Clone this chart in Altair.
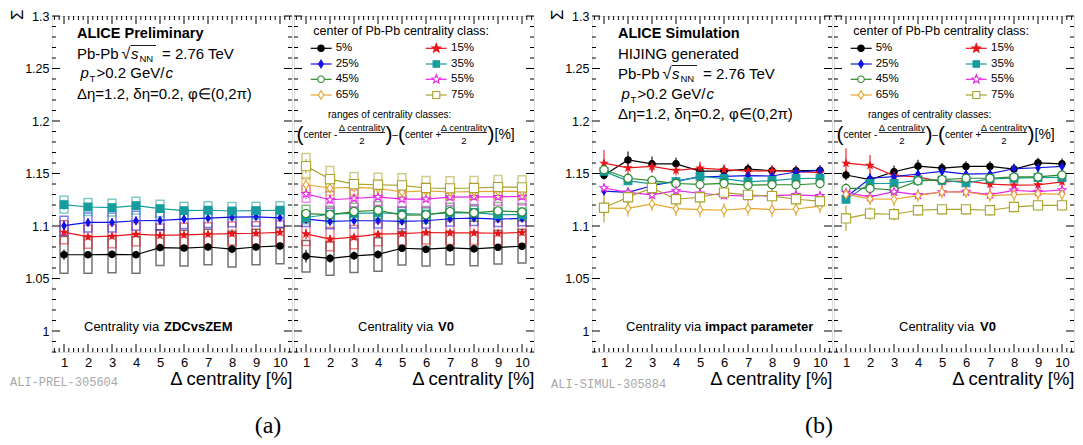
import altair as alt
import numpy as np
import pandas as pd

# ---------------- data ----------------
CLASSES = ["5%", "15%", "25%", "35%", "45%", "55%", "65%", "75%"]
X_VALUES = [1, 2, 3, 4, 5, 6, 7, 8, 9, 10]
Y_LABELS = [1.0, 1.05, 1.1, 1.15, 1.2, 1.25, 1.3]

# (a) left: ALICE Preliminary, centrality via ZDCvsZEM
ZDC_VALUE = {
    "5%":  [1.0726, 1.0726, 1.0730, 1.0726, 1.0794, 1.0790, 1.0800, 1.0780, 1.0800, 1.0810],
    "15%": [1.0941, 1.0897, 1.0903, 1.0922, 1.0910, 1.0916, 1.0922, 1.0928, 1.0931, 1.0940],
    "25%": [1.1003, 1.1034, 1.1034, 1.1050, 1.1053, 1.1066, 1.1075, 1.1084, 1.1087, 1.1078],
    "35%": [1.1203, 1.1181, 1.1175, 1.1194, 1.1165, 1.1147, 1.1150, 1.1143, 1.1147, 1.1150],
}
ZDC_STAT = {
    "5%":  [0.005, 0.003, 0.003, 0.003, 0.003, 0.003, 0.003, 0.003, 0.003, 0.003],
    "15%": [0.004, 0.003, 0.003, 0.003, 0.003, 0.003, 0.003, 0.003, 0.003, 0.003],
    "25%": [0.005, 0.004, 0.004, 0.004, 0.004, 0.004, 0.003, 0.003, 0.003, 0.003],
    "35%": [0.005, 0.003, 0.003, 0.003, 0.003, 0.003, 0.003, 0.003, 0.003, 0.003],
}
ZDC_SYST = {
    "5%":  [0.0175, 0.0175, 0.0175, 0.0175, 0.017, 0.017, 0.017, 0.017, 0.017, 0.017],
    "15%": [0.011, 0.011, 0.011, 0.011, 0.011, 0.011, 0.011, 0.011, 0.011, 0.011],
    "25%": [0.009, 0.009, 0.009, 0.009, 0.009, 0.009, 0.009, 0.009, 0.009, 0.009],
    "35%": [0.008, 0.008, 0.008, 0.008, 0.008, 0.008, 0.008, 0.008, 0.008, 0.008],
}

# (a) right: centrality via V0
V0_VALUE = {
    "5%":  [1.0713, 1.0692, 1.0716, 1.0729, 1.0788, 1.0779, 1.0791, 1.0782, 1.0797, 1.0807],
    "15%": [1.0925, 1.0875, 1.0894, 1.0922, 1.0928, 1.0938, 1.0935, 1.0935, 1.0931, 1.0938],
    "25%": [1.1065, 1.1044, 1.1050, 1.1050, 1.1044, 1.1050, 1.1069, 1.1075, 1.1066, 1.1072],
    "35%": [1.1081, 1.1112, 1.1120, 1.1125, 1.1118, 1.1112, 1.1125, 1.1128, 1.1109, 1.1109],
    "45%": [1.1118, 1.1109, 1.1137, 1.1150, 1.1103, 1.1106, 1.1137, 1.1125, 1.1144, 1.1134],
    "55%": [1.1306, 1.1250, 1.1262, 1.1277, 1.1256, 1.1256, 1.1275, 1.1278, 1.1278, 1.1281],
    "65%": [1.1393, 1.1362, 1.1368, 1.1359, 1.1324, 1.1334, 1.1324, 1.1327, 1.1330, 1.1330],
    "75%": [1.1570, 1.1446, 1.1399, 1.1393, 1.1387, 1.1362, 1.1359, 1.1362, 1.1371, 1.1368],
}
V0_STAT = {
    "5%":  [0.006, 0.004, 0.004, 0.004, 0.003, 0.003, 0.003, 0.003, 0.003, 0.003],
    "15%": [0.005, 0.004, 0.003, 0.003, 0.003, 0.003, 0.003, 0.003, 0.003, 0.003],
    "25%": [0.004, 0.004, 0.003, 0.003, 0.003, 0.003, 0.003, 0.003, 0.003, 0.003],
    "35%": [0.003, 0.003, 0.003, 0.003, 0.003, 0.003, 0.003, 0.003, 0.003, 0.003],
    "45%": [0.004, 0.004, 0.003, 0.003, 0.003, 0.003, 0.003, 0.003, 0.003, 0.003],
    "55%": [0.005, 0.004, 0.003, 0.003, 0.003, 0.003, 0.003, 0.003, 0.003, 0.003],
    "65%": [0.004, 0.004, 0.003, 0.003, 0.003, 0.003, 0.003, 0.003, 0.003, 0.003],
    "75%": [0.007, 0.005, 0.004, 0.004, 0.004, 0.004, 0.004, 0.004, 0.004, 0.004],
}
V0_SYST = {
    "5%":  [0.015, 0.016, 0.016, 0.016, 0.016, 0.016, 0.016, 0.016, 0.016, 0.016],
    "15%": [0.011, 0.011, 0.011, 0.011, 0.011, 0.011, 0.011, 0.011, 0.011, 0.011],
    "25%": [0.007, 0.007, 0.007, 0.007, 0.007, 0.007, 0.007, 0.007, 0.007, 0.007],
    "35%": [0.006, 0.006, 0.006, 0.006, 0.006, 0.006, 0.006, 0.006, 0.006, 0.006],
    "45%": [0.008, 0.008, 0.008, 0.008, 0.008, 0.008, 0.008, 0.008, 0.008, 0.008],
    "55%": [0.008, 0.008, 0.008, 0.008, 0.008, 0.008, 0.008, 0.008, 0.008, 0.008],
    "65%": [0.007, 0.007, 0.007, 0.007, 0.007, 0.007, 0.007, 0.007, 0.007, 0.007],
    "75%": [0.012, 0.012, 0.011, 0.011, 0.011, 0.011, 0.011, 0.011, 0.011, 0.011],
}

# (b) left: HIJING, centrality via impact parameter
IP_VALUE = {
    "5%":  [1.1483, 1.1629, 1.1592, 1.1592, 1.1523, 1.1523, 1.1542, 1.1526, 1.1526, 1.1529],
    "15%": [1.1598, 1.1554, 1.1567, 1.1530, 1.1551, 1.1536, 1.1523, 1.1526, 1.1517, 1.1508],
    "25%": [1.1333, 1.1321, 1.1383, 1.1427, 1.1467, 1.1473, 1.1479, 1.1476, 1.1514, 1.1530],
    "35%": [1.1520, 1.1430, 1.1402, 1.1421, 1.1474, 1.1452, 1.1421, 1.1433, 1.1452, 1.1455],
    "45%": [1.1536, 1.1455, 1.1433, 1.1405, 1.1396, 1.1405, 1.1389, 1.1393, 1.1393, 1.1405],
    "55%": [1.1362, 1.1321, 1.1296, 1.1336, 1.1312, 1.1293, 1.1284, 1.1290, 1.1296, 1.1287],
    "65%": [1.1170, 1.1168, 1.1210, 1.1165, 1.1156, 1.1150, 1.1168, 1.1156, 1.1162, 1.1190],
    "75%": [1.1174, 1.1274, 1.1362, 1.1255, 1.1274, 1.1318, 1.1296, 1.1284, 1.1255, 1.1236],
}
IP_STAT = {
    "5%":  [0.004, 0.008, 0.007, 0.006, 0.005, 0.005, 0.005, 0.005, 0.005, 0.005],
    "15%": [0.0125, 0.006, 0.006, 0.005, 0.006, 0.005, 0.005, 0.005, 0.005, 0.005],
    "25%": [0.004, 0.004, 0.004, 0.004, 0.004, 0.004, 0.004, 0.004, 0.004, 0.004],
    "35%": [0.004, 0.004, 0.004, 0.004, 0.004, 0.004, 0.004, 0.004, 0.004, 0.004],
    "45%": [0.006, 0.005, 0.005, 0.005, 0.005, 0.005, 0.005, 0.005, 0.005, 0.005],
    "55%": [0.004, 0.004, 0.004, 0.004, 0.004, 0.004, 0.004, 0.004, 0.004, 0.004],
    "65%": [0.007, 0.008, 0.007, 0.007, 0.007, 0.007, 0.007, 0.007, 0.007, 0.007],
    "75%": [0.014, 0.008, 0.006, 0.006, 0.006, 0.006, 0.006, 0.006, 0.006, 0.006],
}

# (b) right: HIJING, centrality via V0
SV0_VALUE = {
    "5%":  [1.1486, 1.1442, 1.1517, 1.1570, 1.1551, 1.1567, 1.1567, 1.1542, 1.1601, 1.1592],
    "15%": [1.1598, 1.1577, 1.1479, 1.1467, 1.1421, 1.1430, 1.1399, 1.1389, 1.1392, 1.1421],
    "25%": [1.1274, 1.1455, 1.1470, 1.1495, 1.1520, 1.1495, 1.1498, 1.1545, 1.1555, 1.1567],
    "35%": [1.1255, 1.1405, 1.1405, 1.1436, 1.1436, 1.1411, 1.1449, 1.1455, 1.1461, 1.1464],
    "45%": [1.1358, 1.1358, 1.1343, 1.1430, 1.1442, 1.1455, 1.1455, 1.1467, 1.1467, 1.1486],
    "55%": [1.1318, 1.1277, 1.1327, 1.1296, 1.1324, 1.1327, 1.1299, 1.1339, 1.1327, 1.1343],
    "65%": [1.1302, 1.1258, 1.1255, 1.1290, 1.1324, 1.1324, 1.1290, 1.1299, 1.1308, 1.1302],
    "75%": [1.1072, 1.1118, 1.1112, 1.1150, 1.1159, 1.1159, 1.1150, 1.1181, 1.1196, 1.1196],
}
SV0_STAT = {
    "5%":  [0.005, 0.006, 0.006, 0.006, 0.005, 0.005, 0.005, 0.005, 0.005, 0.005],
    "15%": [0.014, 0.010, 0.005, 0.005, 0.005, 0.005, 0.005, 0.005, 0.005, 0.005],
    "25%": [0.004, 0.004, 0.004, 0.004, 0.004, 0.004, 0.004, 0.004, 0.004, 0.004],
    "35%": [0.004, 0.004, 0.004, 0.004, 0.004, 0.004, 0.004, 0.004, 0.004, 0.004],
    "45%": [0.005, 0.005, 0.005, 0.005, 0.005, 0.005, 0.005, 0.005, 0.005, 0.005],
    "55%": [0.004, 0.004, 0.004, 0.004, 0.004, 0.004, 0.004, 0.004, 0.004, 0.004],
    "65%": [0.006, 0.006, 0.007, 0.006, 0.006, 0.006, 0.006, 0.006, 0.006, 0.006],
    "75%": [0.012, 0.006, 0.006, 0.005, 0.005, 0.005, 0.005, 0.005, 0.005, 0.005],
}

# ---------------- styles ----------------
FONT = "Liberation Sans"
COLORS = ["#000000", "#e8161b", "#1212e6", "#169c9c", "#2a8a2a", "#e626e6", "#e6a52a", "#aaa22c"]
OPEN = [False, False, False, False, True, True, True, True]
FILLS = ["white" if o else c for c, o in zip(COLORS, OPEN)]


def star_path(r_in=0.42):
    pts = []
    for k in range(10):
        ang = -np.pi / 2 + k * np.pi / 5
        r = 1.0 if k % 2 == 0 else r_in
        pts.append((r * np.cos(ang), r * np.sin(ang)))
    return "M" + "L".join(f"{x:.3f},{y:.3f}" for x, y in pts) + "Z"


STAR = star_path()
DIAMOND = "M0,-1L0.62,0L0,1L-0.62,0Z"
SHAPES = ["circle", STAR, DIAMOND, "square", "circle", STAR, DIAMOND, "square"]
SIZES = [42, 85, 60, 42, 42, 85, 75, 50]

W, H = 240, 336
BOX_HALF = 0.165
XSCALE = alt.Scale(domain=[0.5, 10.5], nice=False, zero=False)
YSCALE = alt.Scale(domain=[0.98, 1.30], nice=False, zero=False)
XAXIS = alt.Axis(values=X_VALUES, title="Δ centrality [%]", ticks=False, domain=False, grid=False,
                 labelFontSize=13, labelPadding=4, labelFont=FONT, labelColor="black",
                 titleFontSize=18.5, titleFontWeight="normal", titleFont=FONT, titleColor="black",
                 titleAnchor="end", titlePadding=0)
YAXIS = alt.Axis(values=Y_LABELS, format="~g", title=None, ticks=False, domain=False, grid=False,
                 labelFontSize=12.5, labelPadding=3, labelFont=FONT, labelColor="black")

STROKE = alt.Stroke("cls:N", scale=alt.Scale(domain=CLASSES, range=COLORS), legend=None)
FILL = alt.Fill("cls:N", scale=alt.Scale(domain=CLASSES, range=FILLS), legend=None)
SHAPE = alt.Shape("cls:N", scale=alt.Scale(domain=CLASSES, range=SHAPES), legend=None)
SIZE = alt.Size("cls:N", scale=alt.Scale(domain=CLASSES, range=SIZES), legend=None)

ONE = pd.DataFrame({"k": [0]})

Y_MAJOR = list(np.round(np.arange(1.0, 1.3001, 0.05), 3))
Y_MINOR = [t for t in np.round(np.arange(0.98, 1.3001, 0.01), 3) if t not in Y_MAJOR]
X_MINOR = [t for t in np.round(np.arange(0.6, 10.41, 0.2), 2) if abs(t - round(t)) > 1e-6]


def txt(s, x, y, size=13, weight="normal", style="normal", align="left", font=FONT,
        color="black", angle=0):
    kw = dict(align=align, baseline="middle", fontSize=size, fontWeight=weight,
              fontStyle=style, font=font, color=color)
    if angle:
        kw["angle"] = angle
    return alt.Chart(ONE).mark_text(**kw).encode(x=alt.value(x), y=alt.value(y), text=alt.value(s))


def hrule(x0, x1, y, color="black", width=1.0):
    return alt.Chart(ONE).mark_rule(color=color, strokeWidth=width).encode(
        x=alt.value(x0), x2=alt.value(x1), y=alt.value(y))


def glyph(i, x, y):
    c = COLORS[i]
    return alt.Chart(ONE).mark_point(shape=SHAPES[i], size=SIZES[i], filled=True, fill=FILLS[i],
                                     stroke=c, strokeWidth=1.1, opacity=1).encode(
        x=alt.value(x), y=alt.value(y))


def ticks(yaxis):
    out = []
    for vals, L in ((Y_MAJOR, 8), (Y_MINOR, 4)):
        d = pd.DataFrame({"t": vals})
        ye = alt.Y("t:Q", scale=YSCALE, axis=yaxis)
        out.append(alt.Chart(d).mark_rule(color="black", strokeWidth=1).encode(
            y=ye, x=alt.value(0), x2=alt.value(L)))
        out.append(alt.Chart(d).mark_rule(color="black", strokeWidth=1).encode(
            y=ye, x=alt.value(W - L), x2=alt.value(W)))
    for vals, L in ((X_VALUES, 8), (X_MINOR, 4)):
        d = pd.DataFrame({"t": vals})
        xe = alt.X("t:Q", scale=XSCALE, axis=XAXIS)
        out.append(alt.Chart(d).mark_rule(color="black", strokeWidth=1).encode(
            x=xe, y=alt.value(H), y2=alt.value(H - L)))
        out.append(alt.Chart(d).mark_rule(color="black", strokeWidth=1).encode(
            x=xe, y=alt.value(0), y2=alt.value(L)))
    return out


def data_layers(val, stat, syst, yaxis):
    rows = []
    for c in val:
        for i, x in enumerate(X_VALUES):
            v = val[c][i]
            e = stat[c][i]
            r = dict(cls=c, x=x, v=v, elo=v - e, ehi=v + e)
            if syst is not None:
                s = syst[c][i]
                r.update(lo=v - s, hi=v + s, xl=x - BOX_HALF, xr=x + BOX_HALF)
            rows.append(r)
    df = pd.DataFrame(rows)
    X = lambda f: alt.X(f"{f}:Q", scale=XSCALE, axis=XAXIS)
    Y = lambda f: alt.Y(f"{f}:Q", scale=YSCALE, axis=yaxis)
    out = []
    if syst is not None:
        out.append(alt.Chart(df).mark_rect(filled=False, strokeWidth=1.5, strokeOpacity=0.55).encode(
            x=X("xl"), x2=alt.X2("xr"), y=Y("lo"), y2=alt.Y2("hi"), stroke=STROKE))
    out.append(alt.Chart(df).mark_rule(strokeWidth=1.1).encode(
        x=X("x"), y=Y("elo"), y2=alt.Y2("ehi"), stroke=STROKE))
    out.append(alt.Chart(df).mark_line(strokeWidth=1.2).encode(
        x=X("x"), y=Y("v"), stroke=STROKE))
    out.append(alt.Chart(df).mark_point(filled=True, strokeWidth=1.1, opacity=1).encode(
        x=X("x"), y=Y("v"), stroke=STROKE, fill=FILL, shape=SHAPE, size=SIZE))
    return out


def legend_layers():
    out = [txt("center of Pb-Pb centrality class:", 19.3, 15, size=12.5)]
    row_y = [32.3, 48, 63.3, 79]
    cols = [(16.7, 37.7, 27, 41.7), (131.7, 152.7, 142.3, 157)]
    for i, c in enumerate(CLASSES):
        x0, x1, xs, xl = cols[i % 2]
        y = row_y[i // 2]
        out.append(hrule(x0, x1, y, color=COLORS[i], width=1.2))
        out.append(glyph(i, xs, y))
        out.append(txt(c, xl, y, size=11.5))
    out.append(txt("ranges of centrality classes:", 34, 99, size=10))
    fy = 118.5
    out += [
        txt("(", 6, fy, size=21, align="center"),
        txt("center -", 9.5, fy + 0.5, size=10),
        txt("Δ centrality", 68, 112.3, size=9.5, align="center"),
        hrule(45, 91, 116.5, width=0.8),
        txt("2", 68, 125, size=9.5, align="center"),
        txt(")", 95, fy, size=21, align="center"),
        txt("–", 101, fy + 0.5, size=10, align="center"),
        txt("(", 107.5, fy, size=21, align="center"),
        txt("center +", 111, fy + 0.5, size=10),
        txt("Δ centrality", 170, 112.3, size=9.5, align="center"),
        hrule(147, 193, 116.5, width=0.8),
        txt("2", 170, 125, size=9.5, align="center"),
        txt(")", 197, fy, size=21, align="center"),
        txt("[%]", 200.5, fy, size=14),
    ]
    return out


def energy_line(x0, y):
    return [
        txt("Pb-Pb", x0, y, size=15),
        txt("√", x0 + 44.5, y, size=16),
        hrule(x0 + 53.5, x0 + 79, y - 8.5, width=0.9),
        txt("s", x0 + 54, y, size=15, style="italic"),
        txt("NN", x0 + 62.5, y + 5, size=9.5),
        txt("= 2.76 TeV", x0 + 85, y, size=15),
    ]


def pt_line(x0, y):
    return [
        txt("p", x0 + 3.5, y, size=15, style="italic"),
        txt("T", x0 + 12.5, y + 6, size=9.5),
        txt(">0.2 GeV/", x0 + 19.5, y, size=15),
        txt("c", x0 + 88.5, y, size=15, style="italic"),
    ]


ETA = "Δη=1.2, δη=0.2, φ∈(0,2π)"


def sigma():
    return txt("Σ", -34, 4, size=17, angle=270)


def footer(x_norm, x_bold, bold):
    return [txt("Centrality via", x_norm, 311, size=13),
            txt(bold, x_bold, 311, size=13, weight="bold")]


# ---------- panel 1 : ZDCvsZEM ----------
p1_layers = data_layers(ZDC_VALUE, ZDC_STAT, ZDC_SYST, YAXIS) + ticks(YAXIS)
p1_layers += [txt("ALICE Preliminary", 25, 18, size=14.5, weight="bold")]
p1_layers += energy_line(25, 38) + pt_line(25, 57) + [txt(ETA, 25, 78, size=15)]
p1_layers += footer(32, 112, "ZDCvsZEM")
p1_layers += [sigma(),
              txt("ALI-PREL-305604", -42, 366, size=12, font="Liberation Mono", color="#a8a8a8"),
              txt("(a)", 216, 410, size=24, font="Liberation Serif", align="center")]
p1 = alt.layer(*p1_layers).properties(width=W, height=H)

# ---------- panel 2 : V0 (data) ----------
p2_layers = data_layers(V0_VALUE, V0_STAT, V0_SYST, None) + ticks(None)
p2_layers += legend_layers() + footer(64, 144, "V0")
p2 = alt.layer(*p2_layers).properties(width=W, height=H)

# ---------- panel 3 : impact parameter (HIJING) ----------
p3_layers = data_layers(IP_VALUE, IP_STAT, None, YAXIS) + ticks(YAXIS)
p3_layers += [txt("ALICE Simulation", 26, 18, size=14.5, weight="bold"),
              txt("HIJING generated", 26, 38, size=15)]
p3_layers += energy_line(26, 58) + pt_line(26, 77.5) + [txt(ETA, 26, 98, size=15)]
p3_layers += footer(34, 113, "impact parameter")
p3_layers += [sigma(),
              txt("ALI-SIMUL-305884", -41, 368, size=12, font="Liberation Mono", color="#a8a8a8"),
              txt("(b)", 227, 410, size=24, font="Liberation Serif", align="center")]
p3 = alt.layer(*p3_layers).properties(width=W, height=H)

# ---------- panel 4 : V0 (HIJING) ----------
p4_layers = data_layers(SV0_VALUE, SV0_STAT, None, None) + ticks(None)
p4_layers += legend_layers() + footer(65, 146, "V0")
p4 = alt.layer(*p4_layers).properties(width=W, height=H)

spacer = alt.Chart(ONE).mark_point(opacity=0).encode(
    x=alt.value(0), y=alt.value(0)
).properties(width=54, height=H, view=alt.ViewBackground(strokeOpacity=0))

chart = alt.hconcat(p1, p2, spacer, p3, p4, spacing=2, bounds="flush").properties(
    padding={"left": 0, "top": 0, "right": 0, "bottom": 0}
).configure_view(stroke="black", strokeWidth=1.3).configure_axis(grid=False).configure(font=FONT)

chart.save("out.html", embed_options={"renderer": "svg", "actions": False})
